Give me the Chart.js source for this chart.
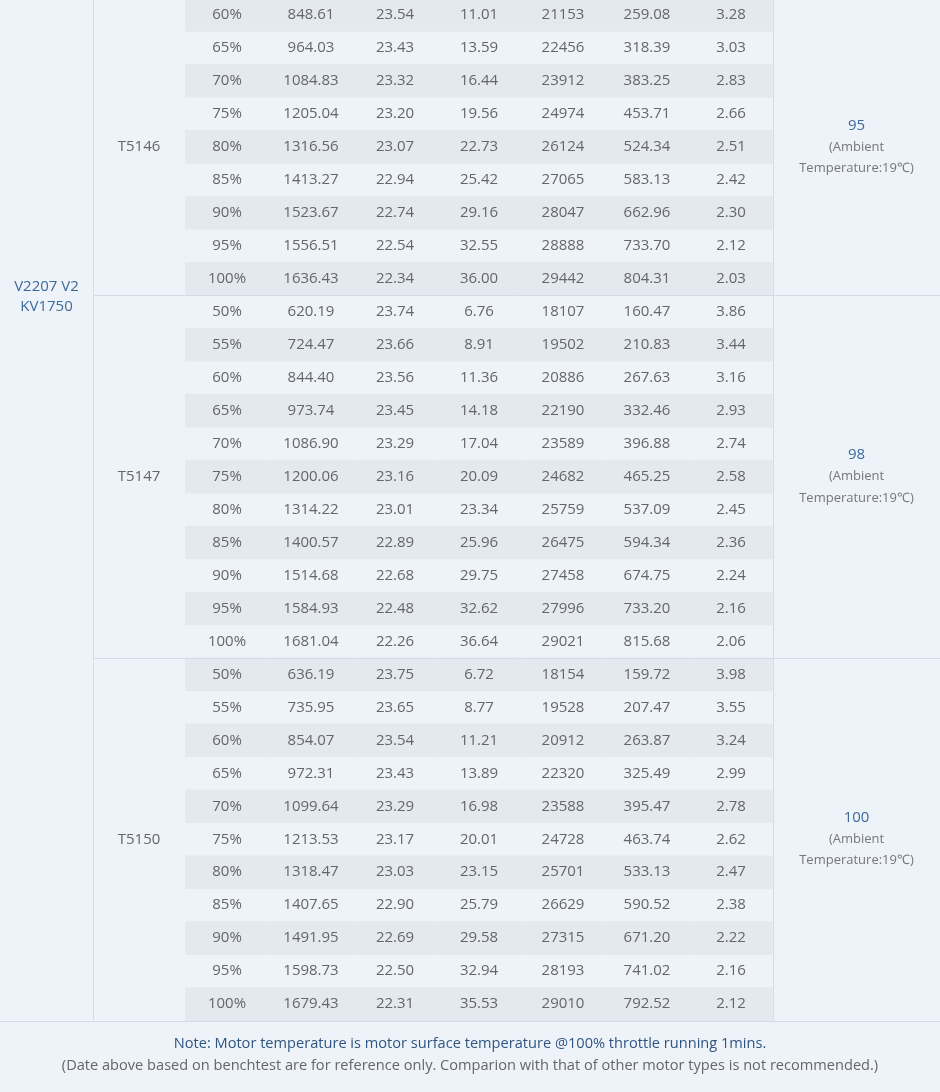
<!DOCTYPE html>
<html lang="en">
<head>
    <meta charset="UTF-8">
    <title>V2207 V2 KV1750</title>
    <style>
        body { margin: 0; background: #eef3f9; }
        #wrap { width: 940px; height: 1092px; }
    </style>
</head>
<body>
    <div id="wrap"><canvas id="myChart" width="940" height="1092"></canvas></div>

    <script src="https://cdn.jsdelivr.net/npm/chart.js"></script>
    <script>
        const motor = 'V2207 V2\nKV1750';
        const props = ['T5146', 'T5147', 'T5150'];
        const groupSizes = [9, 11, 11];
        const temps = ['95', '98', '100'];
        const throttle = ['60%','65%','70%','75%','80%','85%','90%','95%','100%',
            '50%','55%','60%','65%','70%','75%','80%','85%','90%','95%','100%',
            '50%','55%','60%','65%','70%','75%','80%','85%','90%','95%','100%'];
        const thrust = ['848.61','964.03','1084.83','1205.04','1316.56','1413.27','1523.67','1556.51','1636.43',
            '620.19','724.47','844.40','973.74','1086.90','1200.06','1314.22','1400.57','1514.68','1584.93','1681.04',
            '636.19','735.95','854.07','972.31','1099.64','1213.53','1318.47','1407.65','1491.95','1598.73','1679.43'];
        const voltage = ['23.54','23.43','23.32','23.20','23.07','22.94','22.74','22.54','22.34',
            '23.74','23.66','23.56','23.45','23.29','23.16','23.01','22.89','22.68','22.48','22.26',
            '23.75','23.65','23.54','23.43','23.29','23.17','23.03','22.90','22.69','22.50','22.31'];
        const current = ['11.01','13.59','16.44','19.56','22.73','25.42','29.16','32.55','36.00',
            '6.76','8.91','11.36','14.18','17.04','20.09','23.34','25.96','29.75','32.62','36.64',
            '6.72','8.77','11.21','13.89','16.98','20.01','23.15','25.79','29.58','32.94','35.53'];
        const rpm = ['21153','22456','23912','24974','26124','27065','28047','28888','29442',
            '18107','19502','20886','22190','23589','24682','25759','26475','27458','27996','29021',
            '18154','19528','20912','22320','23588','24728','25701','26629','27315','28193','29010'];
        const power = ['259.08','318.39','383.25','453.71','524.34','583.13','662.96','733.70','804.31',
            '160.47','210.83','267.63','332.46','396.88','465.25','537.09','594.34','674.75','733.20','815.68',
            '159.72','207.47','263.87','325.49','395.47','463.74','533.13','590.52','671.20','741.02','792.52'];
        const efficiency = ['3.28','3.03','2.83','2.66','2.51','2.42','2.30','2.12','2.03',
            '3.86','3.44','3.16','2.93','2.74','2.58','2.45','2.36','2.24','2.16','2.06',
            '3.98','3.55','3.24','2.99','2.78','2.62','2.47','2.38','2.22','2.16','2.12'];
        const noteLines = ['Note: Motor temperature is motor surface temperature @100% throttle running 1mins.',
            '(Date above based on benchtest are for reference only. Comparion with that of other motor types is not recommended.)'];

        // x units = pixels of the original table
        const colEdges = [0, 93, 185, 269, 353, 437, 521, 605, 689, 773, 940];
        const dataCols = [throttle, thrust, voltage, current, rpm, power, efficiency];
        const rows = throttle.length;

        const stripeRows = throttle.map((_, i) => i).filter(i => i % 2 === 0);
        const stripeData = [];
        stripeRows.forEach(i => {
            for (let c = 2; c < 9; c++) stripeData.push({ x: [colEdges[c] + 0.5, colEdges[c + 1] - 0.5], y: i });
        });

        const cx = c => (colEdges[c] + colEdges[c + 1]) / 2;

        const tablePlugin = {
            id: 'tableText',
            beforeDatasetsDraw(chart) {
                const { ctx } = chart;
                ctx.save();
                ctx.fillStyle = '#eef3f9';
                ctx.fillRect(0, 0, chart.width, chart.height);
                ctx.restore();
            },
            afterDatasetsDraw(chart) {
                const { ctx, scales: { x, y } } = chart;
                ctx.save();
                const top = 0;
                const bottom = y.getPixelForValue(rows - 0.5);
                ctx.strokeStyle = '#d6dce3';
                ctx.lineWidth = 1;
                ctx.beginPath();
                [1, 9].forEach(c => {
                    const px = Math.round(x.getPixelForValue(colEdges[c])) + 0.5;
                    ctx.moveTo(px, top); ctx.lineTo(px, bottom);
                });
                let start = 0;
                groupSizes.forEach(n => {
                    start += n;
                    const py = Math.round(y.getPixelForValue(start - 0.5)) + 0.5;
                    const x0 = start === rows ? x.getPixelForValue(0) : x.getPixelForValue(colEdges[1]);
                    ctx.moveTo(x0, py); ctx.lineTo(x.getPixelForValue(940), py);
                });
                ctx.stroke();

                ctx.textAlign = 'center';
                ctx.textBaseline = 'middle';
                ctx.font = '15px "Open Sans"';
                ctx.fillStyle = '#666';
                dataCols.forEach((col, k) => {
                    col.forEach((v, i) => ctx.fillText(v, x.getPixelForValue(cx(k + 2)), y.getPixelForValue(i)));
                });
                start = 0;
                groupSizes.forEach((n, g) => {
                    const mid = start + (n - 1) / 2;
                    ctx.font = '15px "Open Sans"';
                    ctx.fillStyle = '#666';
                    ctx.fillText(props[g], x.getPixelForValue(cx(1)), y.getPixelForValue(mid));
                    ctx.fillStyle = '#3d6a9c';
                    ctx.fillText(temps[g], x.getPixelForValue(cx(9)), y.getPixelForValue(mid - 0.65));
                    ctx.font = '13px "Open Sans"';
                    ctx.fillStyle = '#777';
                    ctx.fillText('(Ambient', x.getPixelForValue(cx(9)), y.getPixelForValue(mid));
                    ctx.fillText('Temperature:19\u2103)', x.getPixelForValue(cx(9)), y.getPixelForValue(mid + 0.65));
                    start += n;
                });
                ctx.font = '15px "Open Sans"';
                ctx.fillStyle = '#3d6a9c';
                motor.split('\n').forEach((t, j) => ctx.fillText(t, x.getPixelForValue(cx(0)), y.getPixelForValue(8.25 + j * 0.6)));

                ctx.font = '14.6px "Open Sans"';
                ctx.fillStyle = '#2f5680';
                ctx.fillText(noteLines[0], x.getPixelForValue(470), y.getPixelForValue(31.2));
                ctx.fillStyle = '#666';
                ctx.fillText(noteLines[1], x.getPixelForValue(470), y.getPixelForValue(31.86));
                ctx.restore();
            }
        };

        new Chart(document.getElementById('myChart'), {
            type: 'bar',
            data: {
                datasets: [{
                    data: stripeData,
                    backgroundColor: '#e4e9ef',
                    borderWidth: 0,
                    barThickness: 33,
                    borderSkipped: false
                }]
            },
            options: {
                indexAxis: 'y',
                responsive: false,
                animation: false,
                parsing: { xAxisKey: 'x', yAxisKey: 'y' },
                layout: { padding: 0 },
                scales: {
                    x: { type: 'linear', min: 0, max: 940, display: false, offset: false },
                    y: { type: 'linear', reverse: true, min: -0.455, max: 32.666, display: false, offset: false }
                },
                plugins: { legend: { display: false }, tooltip: { enabled: false } }
            },
            plugins: [tablePlugin]
        });
    </script>
</body>
</html>
